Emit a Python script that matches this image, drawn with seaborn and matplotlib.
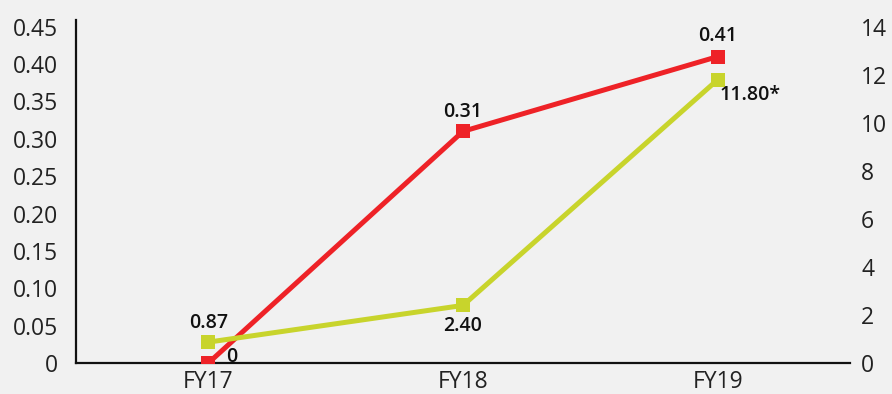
import matplotlib
matplotlib.use("Agg")
import matplotlib.pyplot as plt
import seaborn as sns
import pandas as pd

years = ["FY17", "FY18", "FY19"]
red_vals = [0.0, 0.31, 0.41]
green_vals = [0.87, 2.40, 11.80]
red_labels = ["0", "0.31", "0.41"]
green_labels = ["0.87", "2.40", "11.80*"]
left_ticks = [0, 0.05, 0.10, 0.15, 0.20, 0.25, 0.30, 0.35, 0.40, 0.45]
left_ticklabels = ["0", "0.05", "0.10", "0.15", "0.20", "0.25", "0.30", "0.35", "0.40", "0.45"]
right_ticks = [0, 2, 4, 6, 8, 10, 12, 14]

RED = "#ee2227"
GREEN = "#c8d42c"
BG = "#f1f1f1"

sns.set_style("white")
plt.rcParams["font.family"] = ["Open Sans", "DejaVu Sans"]

df = pd.DataFrame({"year": years, "red": red_vals, "green": green_vals})
df["x"] = range(len(years))

fig = plt.figure(figsize=(8.92, 3.94), dpi=100)
fig.patch.set_facecolor(BG)
ax = fig.add_axes([76 / 892, 31 / 394, (850 - 76) / 892, (363 - 20) / 394])
ax.set_facecolor(BG)
ax2 = ax.twinx()

sns.lineplot(data=df, x="x", y="red", ax=ax, color=RED, lw=3.6,
             marker="s", markersize=10.5, markeredgewidth=0, zorder=3)
sns.lineplot(data=df, x="x", y="green", ax=ax2, color=GREEN, lw=3.6,
             marker="s", markersize=10.5, markeredgewidth=0, zorder=3)

ax.set_xlim(-0.52, 2.52)
ax.set_ylim(0, 0.459)
ax2.set_ylim(0, 14.29)
ax.set_xticks(df["x"])
ax.set_xticklabels(years)
ax.set_yticks(left_ticks)
ax.set_yticklabels(left_ticklabels)
ax2.set_yticks(right_ticks)
ax.set_xlabel("")
ax.set_ylabel("")
ax2.set_ylabel("")

for a in (ax, ax2):
    a.tick_params(length=0, labelsize=16.5, colors="#222222")
ax.tick_params(axis="x", pad=5)
ax.tick_params(axis="y", pad=13)
ax2.tick_params(axis="y", pad=8)

for s in ["top", "right"]:
    ax.spines[s].set_visible(False)
for s in ["top", "right", "left", "bottom"]:
    ax2.spines[s].set_visible(False)
ax.spines["left"].set_color("#111111")
ax.spines["bottom"].set_color("#111111")
ax.spines["left"].set_linewidth(1.6)
ax.spines["bottom"].set_linewidth(1.6)

lab_font = dict(family=["Open Sans", "DejaVu Sans"], fontweight="semibold",
                fontsize=14, color="#111111", ha="center", va="center",
                textcoords="offset points")

# red labels
ax.annotate(red_labels[0], (0, red_vals[0]), xytext=(17, 4), **lab_font)
ax.annotate(red_labels[1], (1, red_vals[1]), xytext=(0, 14), **lab_font)
ax.annotate(red_labels[2], (2, red_vals[2]), xytext=(0, 15), **lab_font)
# green labels
ax2.annotate(green_labels[0], (0, green_vals[0]), xytext=(0, 14), **lab_font)
ax2.annotate(green_labels[1], (1, green_vals[1]), xytext=(0, -15), **lab_font)
ax2.annotate(green_labels[2], (2, green_vals[2]), xytext=(23, -11), **lab_font)

fig.savefig("out.png", dpi=100, facecolor=BG)
